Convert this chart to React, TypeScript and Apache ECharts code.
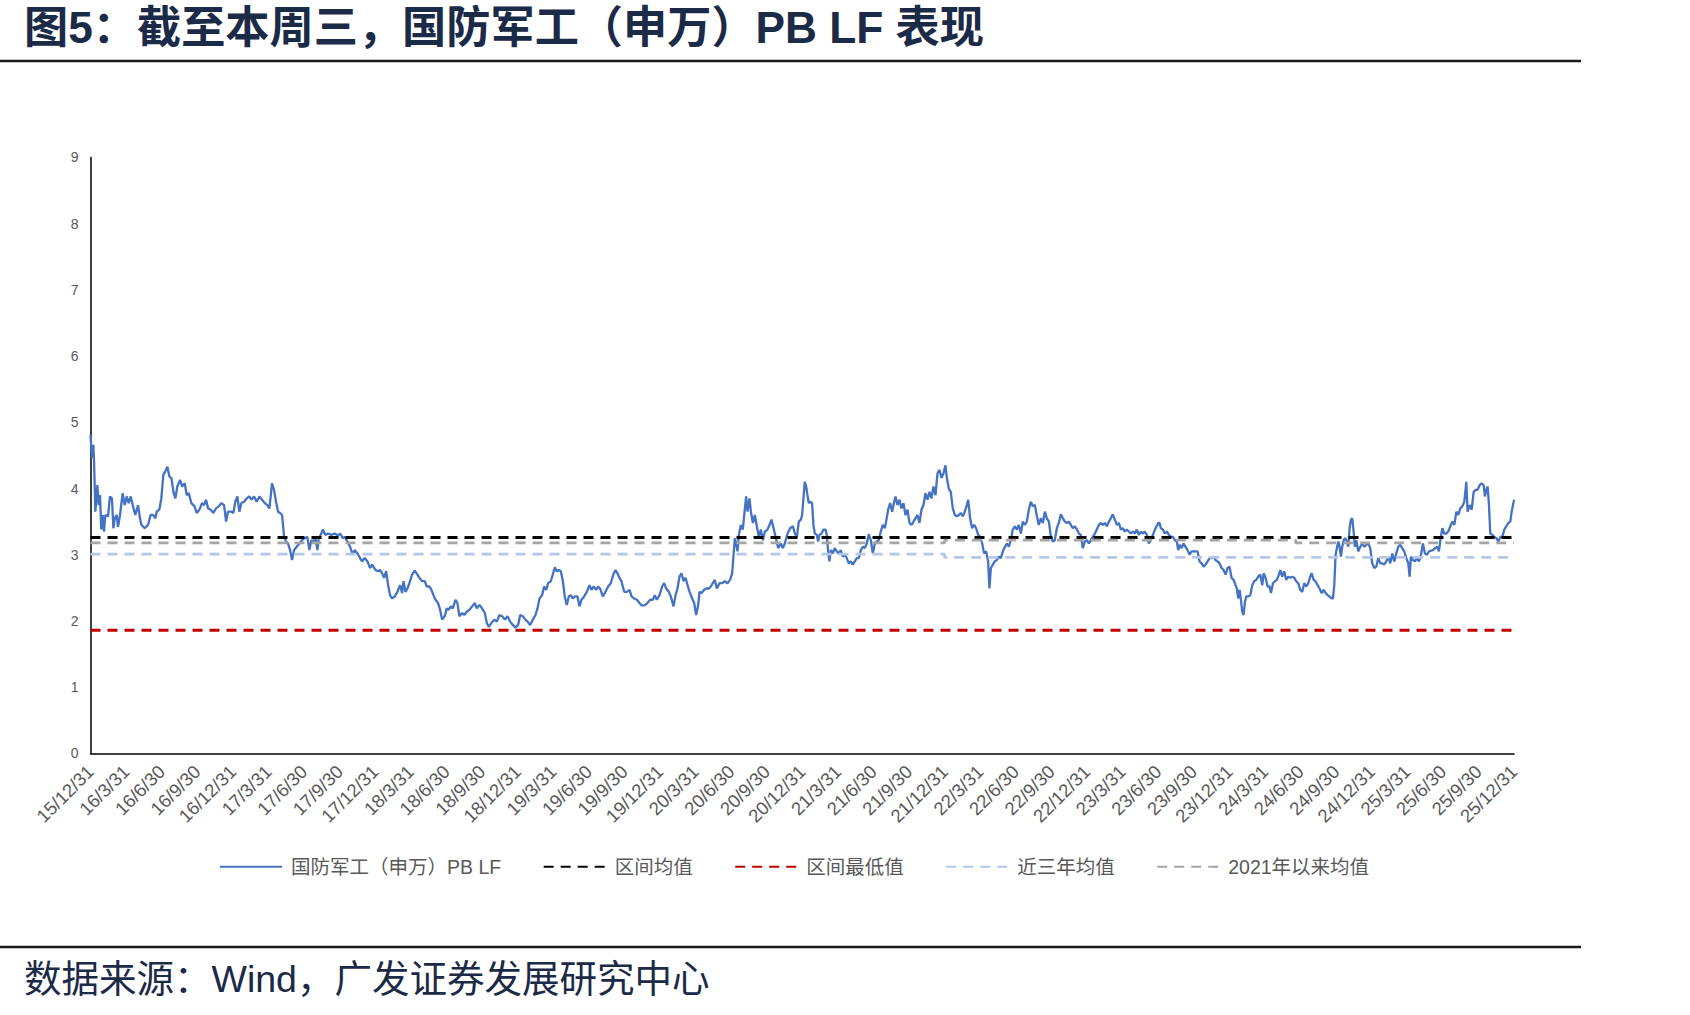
import React, { useEffect, useRef } from "react";
import * as echarts from "echarts";

// Quarter-end tick labels (x axis: months since 2015/12/31, one tick per quarter)
const quarterLabels = [
  "15/12/31", "16/3/31", "16/6/30", "16/9/30", "16/12/31",
  "17/3/31", "17/6/30", "17/9/30", "17/12/31",
  "18/3/31", "18/6/30", "18/9/30", "18/12/31",
  "19/3/31", "19/6/30", "19/9/30", "19/12/31",
  "20/3/31", "20/6/30", "20/9/30", "20/12/31",
  "21/3/31", "21/6/30", "21/9/30", "21/12/31",
  "22/3/31", "22/6/30", "22/9/30", "22/12/31",
  "23/3/31", "23/6/30", "23/9/30", "23/12/31",
  "24/3/31", "24/6/30", "24/9/30", "24/12/31",
  "25/3/31", "25/6/30", "25/9/30", "25/12/31",
];

const yTicks = [0, 1, 2, 3, 4, 5, 6, 7, 8, 9];

// 国防军工（申万）PB LF : [months since 2015/12/31, PB]
const pb2016to2018 = [
  [0, 4.81], [0.13, 4.46], [0.24, 4.66], [0.3, 4.41], [0.41, 3.65], [0.58, 4.05], [0.69, 3.75], [0.8, 3.9],
  [0.91, 3.38], [1.03, 3.6], [1.14, 3.35], [1.25, 3.6], [1.48, 3.58], [1.64, 3.88], [1.81, 3.85], [1.93, 3.4],
  [2.04, 3.55], [2.21, 3.6], [2.32, 3.42], [2.49, 3.6], [2.71, 3.93], [2.88, 3.75], [3.05, 3.88], [3.22, 3.78],
  [3.39, 3.88], [3.56, 3.75], [3.78, 3.6], [4.01, 3.75], [4.17, 3.55], [4.29, 3.45], [4.57, 3.4], [4.85, 3.45],
  [5.07, 3.6], [5.3, 3.6], [5.47, 3.55], [5.58, 3.65], [5.8, 3.68], [5.97, 3.85], [6.14, 4.21], [6.31, 4.26],
  [6.48, 4.33], [6.65, 4.18], [6.82, 4.16], [6.99, 3.95], [7.15, 3.85], [7.32, 4.03], [7.55, 4.13], [7.72, 4.03],
  [7.94, 4.08], [8.11, 3.9], [8.28, 3.93], [8.5, 3.78], [8.78, 3.73], [8.95, 3.63], [9.18, 3.68], [9.4, 3.78],
  [9.57, 3.75], [9.74, 3.83], [9.91, 3.7], [10.13, 3.68], [10.36, 3.63], [10.58, 3.7], [10.81, 3.73], [11.03, 3.78],
  [11.26, 3.75], [11.43, 3.5], [11.59, 3.65], [11.88, 3.65], [12.04, 3.63], [12.21, 3.8], [12.38, 3.88], [12.55, 3.65],
  [12.72, 3.78], [12.94, 3.8], [13.17, 3.85], [13.39, 3.88], [13.56, 3.83], [13.79, 3.88], [14.01, 3.8], [14.24, 3.88],
  [14.46, 3.83], [14.69, 3.78], [14.91, 3.75], [15.08, 3.7], [15.19, 3.88], [15.3, 4.08], [15.47, 3.98], [15.64, 3.8],
  [15.81, 3.65], [15.98, 3.63], [16.15, 3.6], [16.32, 3.27], [16.49, 3.2], [16.65, 3.17], [16.82, 3.07], [16.99, 2.92],
  [17.16, 3.07], [17.38, 3.12], [17.61, 3.17], [17.83, 3.22], [18.06, 3.25], [18.28, 3.27], [18.45, 3.07], [18.62, 3.22],
  [18.79, 3.2], [18.96, 3.25], [19.13, 3.07], [19.24, 3.25], [19.41, 3.3], [19.58, 3.38], [19.8, 3.3], [20.03, 3.32],
  [20.31, 3.3], [20.59, 3.32], [20.87, 3.29], [21.04, 3.32], [21.26, 3.25], [21.43, 3.27], [21.66, 3.2], [21.88, 3.12],
  [22.11, 3.0], [22.27, 3.07], [22.5, 3.02], [22.72, 2.95], [22.89, 2.9], [23.12, 2.95], [23.34, 2.9], [23.57, 2.8],
  [23.74, 2.85], [24.02, 2.77], [24.24, 2.75], [24.41, 2.77], [24.58, 2.72], [24.75, 2.65], [24.92, 2.75], [25.09, 2.54],
  [25.25, 2.39], [25.42, 2.34], [25.65, 2.37], [25.87, 2.44], [26.1, 2.54], [26.27, 2.42], [26.38, 2.6], [26.55, 2.44],
  [26.72, 2.49], [26.88, 2.57], [27.11, 2.7], [27.33, 2.76], [27.56, 2.7], [27.73, 2.65], [27.95, 2.6], [28.18, 2.6],
  [28.35, 2.52], [28.57, 2.52], [28.74, 2.47], [28.91, 2.39], [29.08, 2.32], [29.3, 2.27], [29.47, 2.17], [29.64, 2.02],
  [29.86, 2.07],
];

const pb2018to2020 = [
  [30.03, 2.19], [30.2, 2.17], [30.37, 2.22], [30.54, 2.19], [30.77, 2.32], [30.93, 2.27], [31.1, 2.07], [31.33, 2.12],
  [31.5, 2.09], [31.72, 2.14], [31.95, 2.17], [32.17, 2.22], [32.4, 2.27], [32.56, 2.19], [32.79, 2.24], [33.01, 2.19],
  [33.24, 2.12], [33.41, 1.97], [33.58, 1.91], [33.8, 1.97], [34.03, 2.02], [34.25, 1.99], [34.48, 2.09], [34.7, 2.07],
  [34.93, 2.02], [35.15, 2.07], [35.38, 1.99], [35.6, 1.94], [35.82, 1.9], [36.05, 1.94], [36.22, 2.09], [36.44, 2.07],
  [36.67, 2.02], [36.89, 1.98], [37.06, 1.94], [37.29, 2.02], [37.51, 2.09], [37.68, 2.19], [37.85, 2.34], [38.07, 2.39],
  [38.24, 2.52], [38.41, 2.47], [38.58, 2.57], [38.8, 2.6], [38.97, 2.7], [39.14, 2.81], [39.31, 2.75], [39.48, 2.77],
  [39.65, 2.75], [39.82, 2.6], [39.98, 2.37], [40.15, 2.24], [40.32, 2.37], [40.49, 2.39], [40.66, 2.34], [40.83, 2.37],
  [41.05, 2.37], [41.22, 2.22], [41.39, 2.32], [41.61, 2.37], [41.84, 2.44], [42.06, 2.54], [42.23, 2.47], [42.4, 2.52],
  [42.63, 2.47], [42.79, 2.52], [42.96, 2.49], [43.19, 2.37], [43.41, 2.44], [43.64, 2.52], [43.86, 2.57], [44.09, 2.71],
  [44.26, 2.77], [44.42, 2.72], [44.59, 2.65], [44.76, 2.6], [44.99, 2.44], [45.21, 2.44], [45.44, 2.47], [45.61, 2.37],
  [45.83, 2.34], [46.06, 2.32], [46.28, 2.27], [46.5, 2.23], [46.73, 2.24], [46.95, 2.27], [47.18, 2.32], [47.4, 2.32],
  [47.57, 2.39], [47.74, 2.32], [47.97, 2.39], [48.19, 2.52], [48.36, 2.57], [48.53, 2.49], [48.75, 2.44], [48.92, 2.37],
  [49.15, 2.22], [49.32, 2.39], [49.48, 2.49], [49.65, 2.67], [49.82, 2.72], [49.99, 2.6], [50.16, 2.65], [50.33, 2.54],
  [50.5, 2.44], [50.72, 2.34], [50.89, 2.27], [51.06, 2.09], [51.23, 2.24], [51.34, 2.44], [51.51, 2.42], [51.73, 2.47],
  [51.9, 2.49], [52.13, 2.49], [52.29, 2.52], [52.46, 2.57], [52.63, 2.62], [52.8, 2.49], [53.02, 2.57], [53.25, 2.57],
  [53.47, 2.6], [53.7, 2.57], [53.92, 2.62], [54.09, 2.72], [54.21, 3.0], [54.32, 3.25], [54.43, 3.17], [54.54, 3.05],
  [54.66, 3.3], [54.82, 3.45], [54.99, 3.38], [55.11, 3.6], [55.27, 3.88], [55.39, 3.65], [55.55, 3.85], [55.67, 3.65],
  [55.84, 3.48], [56.0, 3.6], [56.17, 3.43], [56.34, 3.27], [56.51, 3.38], [56.68, 3.22], [56.85, 3.35], [57.07, 3.38],
  [57.24, 3.45], [57.41, 3.53], [57.58, 3.4], [57.75, 3.27], [57.97, 3.1], [58.2, 3.17], [58.36, 3.1], [58.53, 3.17],
  [58.76, 3.32], [58.98, 3.4], [59.21, 3.43], [59.38, 3.32], [59.55, 3.27], [59.71, 3.5], [59.88, 3.53],
];

const pb2021to2023 = [
  [59.99, 3.6], [60.1, 3.85], [60.21, 4.1], [60.33, 4.03], [60.44, 3.9], [60.55, 3.78], [60.66, 3.8], [60.83, 3.78],
  [60.94, 3.45], [61.06, 3.32], [61.23, 3.3], [61.34, 3.2], [61.45, 3.3], [61.62, 3.32], [61.79, 3.38], [61.96, 3.38],
  [62.07, 3.3], [62.18, 3.05], [62.29, 2.9], [62.41, 3.07], [62.57, 3.02], [62.74, 3.1], [62.91, 3.05], [63.08, 3.02],
  [63.25, 3.07], [63.42, 2.97], [63.59, 3.0], [63.75, 2.95], [63.92, 2.87], [64.09, 2.9], [64.26, 2.85], [64.43, 2.9],
  [64.6, 2.95], [64.77, 2.95], [64.94, 3.07], [65.1, 3.12], [65.27, 3.1], [65.44, 3.17], [65.61, 3.31], [65.78, 3.22],
  [65.95, 3.02], [66.12, 3.17], [66.28, 3.2], [66.45, 3.22], [66.62, 3.35], [66.79, 3.45], [66.96, 3.4], [67.07, 3.5],
  [67.24, 3.68], [67.41, 3.78], [67.58, 3.65], [67.75, 3.8], [67.86, 3.88], [68.03, 3.75], [68.2, 3.83], [68.36, 3.7],
  [68.53, 3.78], [68.7, 3.6], [68.87, 3.68], [69.04, 3.48], [69.21, 3.45], [69.38, 3.5], [69.54, 3.55], [69.71, 3.6],
  [69.88, 3.48], [70.05, 3.68], [70.22, 3.75], [70.39, 3.93], [70.56, 3.83], [70.73, 3.95], [70.89, 3.85], [71.06, 4.03],
  [71.23, 3.9], [71.4, 4.23], [71.57, 4.28], [71.74, 4.16], [71.91, 4.23], [72.07, 4.35], [72.19, 4.16], [72.35, 4.0],
  [72.52, 3.95], [72.69, 3.7], [72.86, 3.6], [73.03, 3.58], [73.2, 3.6], [73.37, 3.63], [73.54, 3.58], [73.7, 3.65],
  [73.87, 3.75], [73.99, 3.83], [74.15, 3.55], [74.32, 3.4], [74.49, 3.45], [74.66, 3.4], [74.83, 3.3], [75.0, 3.27],
  [75.17, 3.17], [75.33, 3.02], [75.5, 3.05], [75.67, 2.9], [75.78, 2.49], [75.9, 2.8], [76.07, 2.85], [76.23, 2.9],
  [76.4, 2.92], [76.57, 2.97], [76.74, 2.95], [76.91, 3.05], [77.08, 3.12], [77.25, 3.17], [77.41, 3.12], [77.58, 3.22],
  [77.75, 3.38], [77.92, 3.43], [78.09, 3.38], [78.26, 3.45], [78.43, 3.32], [78.59, 3.5], [78.76, 3.45], [78.93, 3.5],
  [79.1, 3.68], [79.27, 3.8], [79.44, 3.73], [79.61, 3.75], [79.78, 3.58], [79.94, 3.45], [80.11, 3.55], [80.28, 3.48],
  [80.45, 3.65], [80.62, 3.55], [80.79, 3.5], [80.96, 3.27], [81.12, 3.2], [81.29, 3.22], [81.46, 3.4], [81.63, 3.48],
  [81.8, 3.61], [81.97, 3.55], [82.14, 3.5], [82.3, 3.48], [82.47, 3.5], [82.64, 3.45], [82.81, 3.4], [82.98, 3.43],
  [83.15, 3.38], [83.32, 3.32], [83.48, 3.3], [83.65, 3.1], [83.82, 3.2], [83.99, 3.22], [84.16, 3.17], [84.33, 3.22],
  [84.5, 3.27], [84.67, 3.32], [84.83, 3.38], [85.0, 3.45], [85.17, 3.48], [85.34, 3.45], [85.51, 3.48], [85.68, 3.43],
  [85.85, 3.5], [86.01, 3.55], [86.18, 3.61], [86.35, 3.53], [86.52, 3.45], [86.69, 3.48], [86.86, 3.38], [87.03, 3.4],
  [87.19, 3.35], [87.36, 3.38], [87.53, 3.35], [87.7, 3.32], [87.87, 3.35], [88.04, 3.32], [88.21, 3.38], [88.38, 3.3],
  [88.55, 3.35], [88.71, 3.32], [88.88, 3.35], [89.05, 3.3], [89.22, 3.17], [89.39, 3.22], [89.56, 3.3], [89.73, 3.38],
];

const pb2023to2025 = [
  [90.01, 3.48], [90.12, 3.48], [90.23, 3.4], [90.4, 3.38], [90.57, 3.32], [90.74, 3.35], [90.91, 3.3], [91.08, 3.27],
  [91.25, 3.27], [91.41, 3.22], [91.58, 3.2], [91.69, 3.07], [91.81, 3.15], [91.98, 3.1], [92.14, 3.17], [92.31, 3.12],
  [92.48, 3.07], [92.65, 3.0], [92.82, 3.05], [92.99, 3.05], [93.16, 3.05], [93.33, 3.05], [93.49, 2.9], [93.66, 2.87],
  [93.83, 2.82], [94.0, 2.85], [94.17, 2.9], [94.34, 2.95], [94.51, 2.95], [94.67, 2.97], [94.84, 2.92], [95.01, 2.9],
  [95.18, 2.87], [95.35, 2.8], [95.52, 2.77], [95.69, 2.7], [95.85, 2.8], [96.02, 2.82], [96.19, 2.65], [96.36, 2.62],
  [96.53, 2.54], [96.64, 2.49], [96.75, 2.34], [96.87, 2.47], [96.98, 2.32], [97.09, 2.14], [97.2, 2.09], [97.32, 2.29],
  [97.43, 2.37], [97.6, 2.37], [97.77, 2.39], [97.93, 2.54], [98.1, 2.6], [98.27, 2.62], [98.44, 2.67], [98.61, 2.7],
  [98.78, 2.54], [98.89, 2.72], [99.06, 2.65], [99.23, 2.52], [99.4, 2.52], [99.51, 2.42], [99.68, 2.57], [99.85, 2.6],
  [100.01, 2.62], [100.18, 2.7], [100.3, 2.77], [100.46, 2.67], [100.63, 2.75], [100.8, 2.62], [100.97, 2.67], [101.14, 2.65],
  [101.31, 2.67], [101.48, 2.65], [101.64, 2.6], [101.81, 2.57], [101.98, 2.47], [102.15, 2.44], [102.32, 2.57], [102.49, 2.52],
  [102.66, 2.57], [102.82, 2.67], [102.94, 2.72], [103.11, 2.62], [103.27, 2.6], [103.44, 2.54], [103.61, 2.49], [103.78, 2.42],
  [103.95, 2.47], [104.12, 2.42], [104.29, 2.39], [104.45, 2.37], [104.62, 2.34], [104.74, 2.34], [104.85, 2.54], [104.96, 3.0],
  [105.07, 3.1], [105.19, 3.2], [105.3, 3.12], [105.41, 2.97], [105.52, 3.12], [105.64, 3.22], [105.75, 3.25], [105.92, 3.2],
  [106.03, 3.12], [106.14, 3.4], [106.25, 3.53], [106.37, 3.55], [106.48, 3.35], [106.59, 3.12], [106.7, 3.22], [106.87, 3.05],
  [107.04, 3.12], [107.21, 3.17], [107.38, 3.12], [107.55, 3.15], [107.72, 3.17], [107.88, 3.1], [108.05, 2.87], [108.22, 2.8],
  [108.39, 2.82], [108.56, 2.95], [108.73, 2.87], [108.9, 2.87], [109.06, 2.85], [109.23, 2.9], [109.4, 2.97], [109.57, 2.87],
  [109.74, 3.02], [109.91, 2.9], [110.08, 3.02], [110.24, 3.12], [110.41, 3.15], [110.58, 3.1], [110.75, 3.05], [110.92, 2.95],
  [111.09, 2.87], [111.2, 2.67], [111.31, 2.97], [111.48, 2.92], [111.65, 2.9], [111.82, 2.95], [111.99, 2.9], [112.16, 3.0],
  [112.32, 3.17], [112.49, 3.02], [112.66, 3.0], [112.83, 3.05], [113.0, 3.06], [113.17, 3.07], [113.34, 3.1], [113.51, 3.12],
  [113.67, 3.05], [113.79, 3.22], [113.96, 3.4], [114.12, 3.32], [114.29, 3.32], [114.46, 3.35], [114.63, 3.43], [114.8, 3.5],
  [114.97, 3.45], [115.14, 3.65], [115.3, 3.6], [115.47, 3.7], [115.64, 3.73], [115.81, 3.8], [115.98, 4.1], [116.09, 3.65],
  [116.26, 3.75], [116.43, 3.68], [116.6, 3.95], [116.77, 3.98], [116.93, 3.98], [117.1, 4.05], [117.27, 4.08], [117.44, 4.05],
  [117.55, 3.88], [117.66, 3.98], [117.78, 4.03], [117.89, 3.75], [118.0, 3.32], [118.17, 3.3], [118.34, 3.27], [118.51, 3.25],
  [118.68, 3.2], [118.85, 3.27], [119.01, 3.27], [119.18, 3.38], [119.35, 3.43], [119.52, 3.48], [119.69, 3.5], [119.8, 3.65],
  [119.97, 3.8], [120, 3.83],
];

// Reference levels
const rangeMean = [[0, 3.26], [120, 3.26]];
const rangeMin = [[0, 1.86], [120, 1.86]];
const threeYearMean = [[0, 3.01], [72, 3.01], [72, 2.96], [120, 2.96]];
const since2021Mean = [[0, 3.18], [72, 3.18], [72, 3.22], [101.6, 3.22], [101.6, 3.18], [120, 3.18]];

const seriesNames = ["国防军工（申万）PB LF", "区间均值", "区间最低值", "近三年均值", "2021年以来均值"];
const seriesColors = ["#4472C4", "#000000", "#C00000", "#B4C7E7", "#A5A5A5"];

const titleText = "图5：截至本周三，国防军工（申万）PB LF 表现";
const sourceText = "数据来源：Wind，广发证券发展研究中心";

const LATIN_CJK = '"Liberation Sans", Arial, "Noto Sans CJK SC", sans-serif';

export default function App() {
  const ref = useRef<HTMLDivElement>(null);

  useEffect(() => {
    if (!ref.current) return;
    const chart = echarts.init(ref.current, null, { renderer: "svg" });
    const pbData = [...pb2016to2018, ...pb2018to2020, ...pb2021to2023, ...pb2023to2025];
    const dash = [10, 7];

    chart.setOption({
      animation: false,
      backgroundColor: "#ffffff",
      grid: { left: 90.5, right: 176, top: 157.4, bottom: 261.6 },
      xAxis: {
        type: "value",
        min: 0,
        max: 120,
        interval: 3,
        axisLine: { show: true, lineStyle: { color: "#000", width: 1.5 } },
        axisTick: { show: false },
        splitLine: { show: false },
        axisLabel: {
          rotate: 45,
          margin: 15,
          fontSize: 18.5,
          color: "#595959",
          fontFamily: LATIN_CJK,
          showMinLabel: true,
          showMaxLabel: true,
          formatter: (v: number) => quarterLabels[Math.round(v / 3)] ?? "",
        },
      },
      yAxis: {
        type: "value",
        min: yTicks[0],
        max: yTicks[yTicks.length - 1],
        interval: 1,
        axisLine: { show: true, lineStyle: { color: "#000", width: 1.5 } },
        axisTick: { show: false },
        splitLine: { show: false },
        axisLabel: { margin: 12, fontSize: 14, color: "#595959", fontFamily: LATIN_CJK },
      },
      legend: {
        left: 219,
        top: 857,
        padding: 0,
        itemWidth: 62,
        itemHeight: 14,
        itemGap: 41.5,
        itemStyle: { opacity: 0 },
        textStyle: {
          fontSize: 19.5,
          color: "#595959",
          fontFamily: LATIN_CJK,
          padding: [0, 0, 0, 4],
        },
        data: seriesNames,
      },
      series: [
        {
          name: seriesNames[0],
          type: "line",
          data: pbData,
          symbol: "none",
          lineStyle: { color: seriesColors[0], width: 2.3 },
          itemStyle: { color: seriesColors[0] },
          z: 2,
        },
        {
          name: seriesNames[1],
          type: "line",
          data: rangeMean,
          symbol: "none",
          lineStyle: { color: seriesColors[1], width: 2.8, type: dash },
          itemStyle: { color: seriesColors[1] },
          z: 3,
        },
        {
          name: seriesNames[2],
          type: "line",
          data: rangeMin,
          symbol: "none",
          lineStyle: { color: seriesColors[2], width: 2.8, type: dash },
          itemStyle: { color: seriesColors[2] },
          z: 3,
        },
        {
          name: seriesNames[3],
          type: "line",
          data: threeYearMean,
          symbol: "none",
          lineStyle: { color: seriesColors[3], width: 2.8, type: dash },
          itemStyle: { color: seriesColors[3] },
          z: 3,
        },
        {
          name: seriesNames[4],
          type: "line",
          data: since2021Mean,
          symbol: "none",
          lineStyle: { color: seriesColors[4], width: 2.8, type: dash },
          itemStyle: { color: seriesColors[4] },
          z: 3,
        },
      ],
      graphic: [
        {
          type: "text",
          left: 24,
          top: 5,
          style: {
            text: titleText,
            fontSize: 44.2,
            fontWeight: "bold",
            fontFamily: LATIN_CJK,
            fill: "#1B2A47",
          },
        },
        {
          type: "line",
          shape: { x1: 0, y1: 61, x2: 1581, y2: 61 },
          style: { stroke: "#1a1a1a", lineWidth: 2.5 },
        },
        {
          type: "line",
          shape: { x1: 0, y1: 947, x2: 1581, y2: 947 },
          style: { stroke: "#1a1a1a", lineWidth: 2.5 },
        },
        {
          type: "text",
          left: 24,
          top: 960,
          style: {
            text: sourceText,
            fontSize: 37.5,
            fontFamily: LATIN_CJK,
            fill: "#1B2A47",
          },
        },
      ],
    });

    return () => chart.dispose();
  }, []);

  return (
    <div
      ref={ref}
      style={{ position: "absolute", left: 0, top: 0, width: 1690, height: 1015 }}
    />
  );
}
